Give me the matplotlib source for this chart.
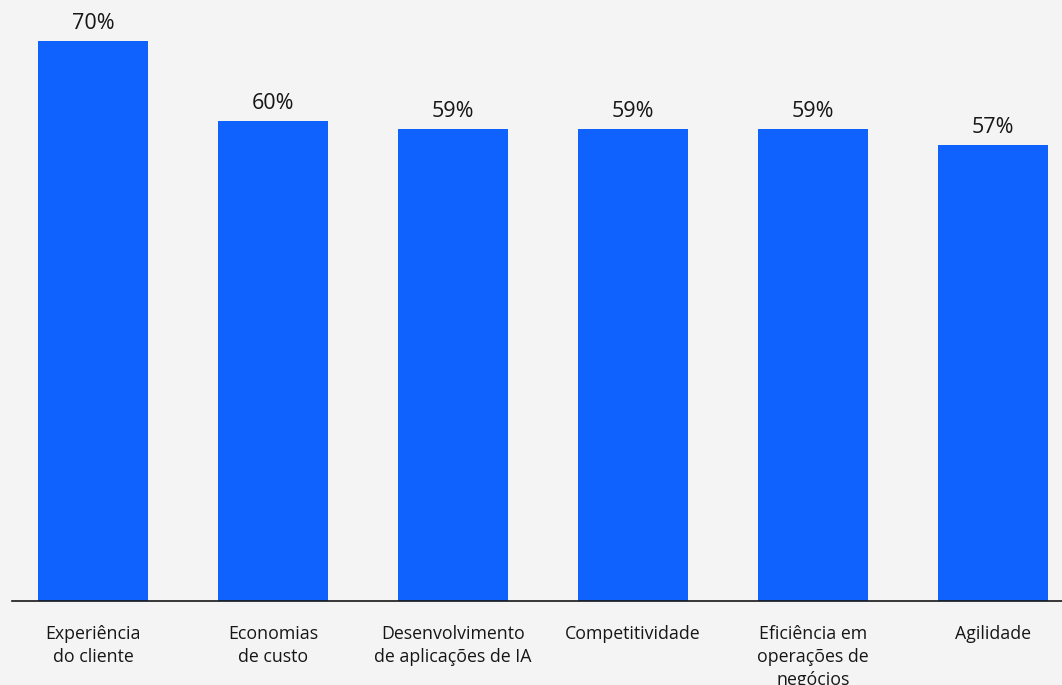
import matplotlib.pyplot as plt

categories = [
    "Experiência\ndo cliente",
    "Economias\nde custo",
    "Desenvolvimento\nde aplicações de IA",
    "Competitividade",
    "Eficiência em\noperações de\nnegócios",
    "Agilidade",
]
values = [70, 60, 59, 59, 59, 57]

BG = "#f4f4f4"
BLUE = "#0f62fe"
TEXT = "#161616"

plt.rcParams['font.family'] = ['Open Sans', 'DejaVu Sans']

fig = plt.figure(figsize=(10.62, 6.85), dpi=100, facecolor=BG)
ax = fig.add_axes([12 / 1062, 84 / 685, 1050 / 1062, 601 / 685])
ax.set_facecolor(BG)

x = list(range(len(categories)))
bars = ax.bar(x, values, width=0.611, color=BLUE)

# подписи значений над столбцами
for xi, v in zip(x, values):
    ax.annotate(f"{v}%", (xi, v), xytext=(0, 5), textcoords='offset points',
                ha='center', va='bottom', fontsize=15.5, color=TEXT)

ax.set_xlim(-0.45, 5.383)
ax.set_ylim(0, 75.1)

ax.set_xticks(x)
ax.set_xticklabels(categories, fontsize=12.8, color=TEXT, va='top', linespacing=1.36)
ax.tick_params(axis='x', length=0, pad=17)
ax.set_yticks([])

for s in ['top', 'right', 'left']:
    ax.spines[s].set_visible(False)
ax.spines['bottom'].set_color(TEXT)
ax.spines['bottom'].set_linewidth(1.2)

fig.savefig("out.png", dpi=100, facecolor=BG)
